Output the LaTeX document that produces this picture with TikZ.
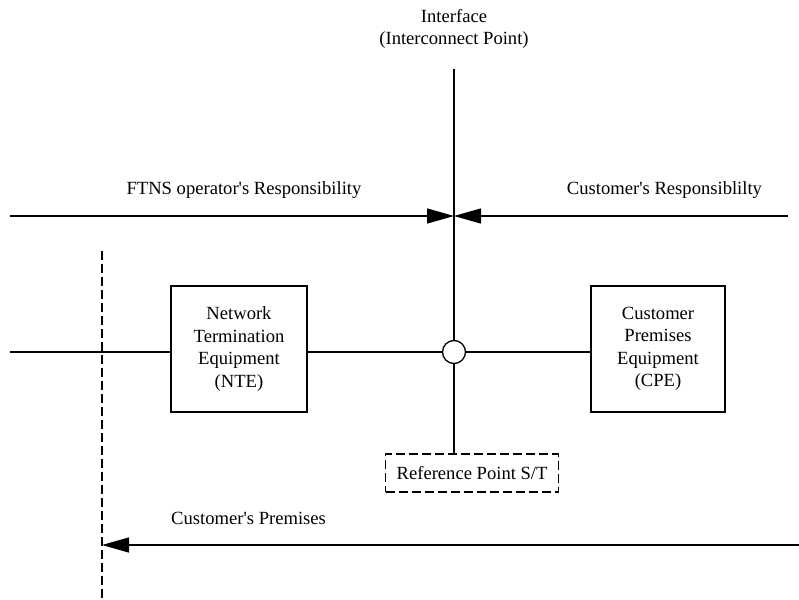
\documentclass[tikz,border=0pt]{standalone}
\usepackage{fontspec}
\setmainfont{Liberation Serif}
\usetikzlibrary{arrows.meta}
\begin{document}
\begin{tikzpicture}[x=1pt,y=-1pt,
  every node/.style={font=\fontsize{18.6}{22.5}\selectfont},
  ln/.style={line width=1.3pt},
  arr/.style={ln,-{Triangle[length=27pt,width=15pt]}},
  dsh/.style={line width=1.3pt,dash pattern=on 9pt off 4pt},
  box/.style={draw,line width=1.3pt,align=center,inner sep=0pt},
  lbl/.style={align=center,inner sep=0pt}]
\useasboundingbox (0,0) rectangle (799,599);
% top labels
\node[lbl] (iface) at (454,29) {Interface\\(Interconnect Point)};
\node[lbl] (ftns) at (244,190) {FTNS operator\textquotesingle s Responsibility};
\node[lbl] (cust) at (664.5,190) {Customer\textquotesingle s Responsiblilty};
\node[lbl,anchor=west] (prem) at (171,518) {Customer\textquotesingle s Premises};
% coordinates
\coordinate (vtop) at (454,69);
\coordinate (ltop) at (10,216);
\coordinate (rtop) at (788,216);
\coordinate (mtop) at (454,216);
\coordinate (lmid) at (10,352);
\coordinate (dtop) at (102,251);
\coordinate (dbot) at (102,599);
\coordinate (brt) at (799,545);
\coordinate (btip) at (102,545);
% nodes
\node[box,minimum width=136pt,minimum height=126pt] (nte) at (239,349)
  {Network\\Termination\\Equipment\\(NTE)};
\node[box,minimum width=134pt,minimum height=126pt] (cpe) at (658,349)
  {Customer\\Premises\\Equipment\\(CPE)};
\node[draw,circle,line width=1.3pt,minimum size=23pt,inner sep=0pt] (refpt) at (454,352) {};
\node[draw,dsh,anchor=west,inner xsep=11pt,minimum height=38pt] (ref) at (385,473) {Reference Point S/T};
% connectors
\draw[ln] (vtop) -- (refpt.north);
\draw[ln] (refpt.south) -- (refpt.south |- ref.north);
\draw[arr] (ltop) -- (mtop);
\draw[arr] (rtop) -- (mtop);
\draw[ln] (lmid) -- (lmid -| nte.west);
\draw[ln] (refpt.west -| nte.east) -- (refpt.west);
\draw[ln] (refpt.east) -- (refpt.east -| cpe.west);
\draw[dsh] (dtop) -- (dbot);
\draw[arr] (brt) -- (btip);
\end{tikzpicture}
\end{document}
